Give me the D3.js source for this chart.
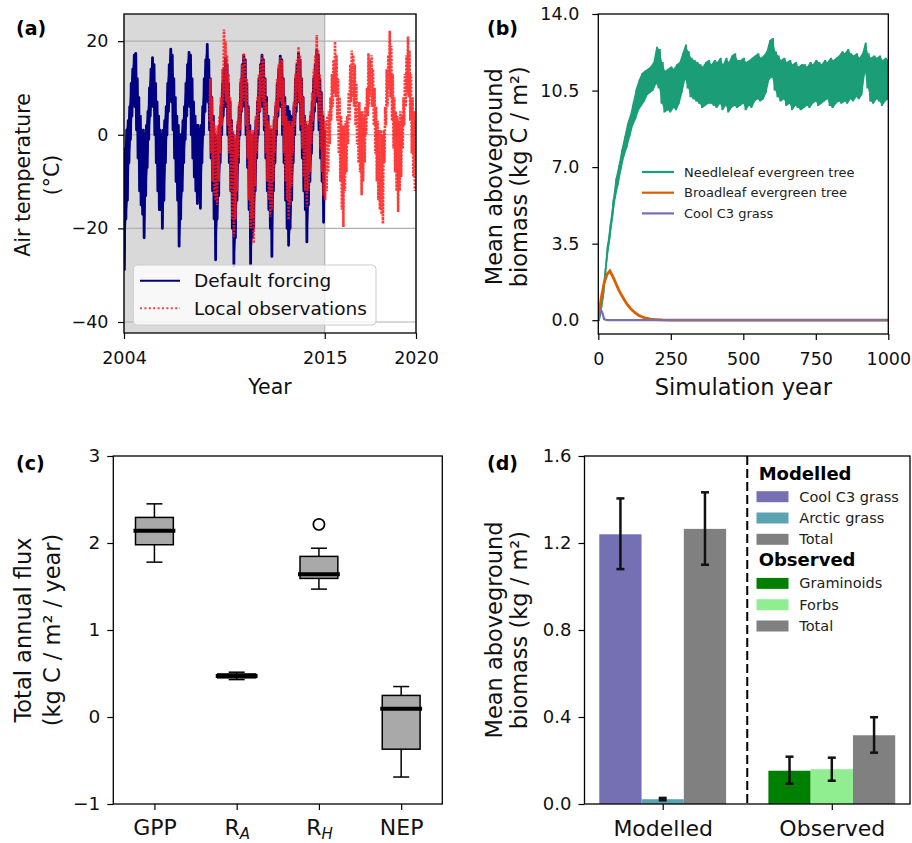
<!DOCTYPE html>
<html>
<head>
<meta charset="utf-8">
<script src="https://cdn.jsdelivr.net/npm/d3@7"></script>
<style>
  body { margin: 0; background: #fff; }
  svg { display: block; font-family: "DejaVu Sans", sans-serif; }
</style>
</head>
<body>
<svg id="fig" width="912" height="843"></svg>
<script>
/************ data *************************************/

// (a) air temperature, monthly low / high of the daily series (deg C)
const forcingStart = 2004;            // Jan 2004, one value per month
const forcingHigh = [
  -3, 1, 3, 6, 11, 14, 17, 17.4, 12, 8, 4, 1,
  1, 0, 2, 5, 10, 14, 16.5, 15, 11, 7, 4, 1,
  0, 1, 3, 6, 11, 15, 18.3, 17, 12, 8, 4, 2,
  0, 0, 3, 6, 11, 15, 17.6, 17, 12, 7, 4, 2,
  2, 1, 2, 6, 12, 16, 19.3, 16, 12, 8, 4, 0,
  -2, 0, 2, 6, 11, 14, 16.3, 15, 11, 7, 3, 0,
  -3, -1, 2, 6, 11, 15, 17, 16, 11, 6, 2, -2,
  0, 0, 3, 7, 12, 15, 17, 16, 12, 8, 4, 1,
  1, -1, 3, 6, 11, 14, 16.8, 16, 12, 8, 6, 6,
  5, 4, 3, 6, 12, 15, 17.4, 16, 12, 8, 4, 2,
  1, 2, 4, 7, 12, 15, 18.1, 17, 12, 9, 4, 1
];
const forcingLow = [
  -29, -18, -14, -6, -1, 4, 8, 6, 1, -5, -12, -15,
  -17, -22, -13, -7, -1, 4, 7, 6, 0, -6, -12, -16,
  -16, -20, -14, -6, 0, 5, 8, 7, 1, -5, -10, -14,
  -23.8, -18, -12, -6, -1, 4, 7, 6, 0, -5, -9, -12,
  -14.7, -12, -15.7, -6, 0, 5, 8, 7, 1, -5, -12, -18,
  -26.7, -18, -13, -6, 0, 4, 7, 6, 0, -6, -12, -20,
  -28, -22, -14, -6, 0, 5, 8, 6, 0, -7, -16, -27.8,
  -22, -20, -12, -5, 0, 5, 8, 6, 1, -5, -12, -16,
  -20, -26, -12, -6, 0, 4, 8, 6, 0, -6, -14, -20,
  -23.6, -20, -14, -6, 0, 5, 8, 7, 1, -5, -12, -16,
  -22.9, -15, -10, -4, 1, 5, 9, 7, 1, -5, -10, -18.7
];
const obsStart = 2008 + 8 / 12;       // Sep 2008
const obsHigh = [
  12, 8, 3, 2,
  1, 2, 4, 8, 14, 22.5, 20, 17, 13, 8, 3, 1,
  0, 0, 3, 7, 12, 15, 17.4, 16, 12, 6, 1, 0,
  1, 0, 4, 8, 13, 15, 17, 16, 12, 7, 3, 2,
  2, 1, 4, 7, 12, 15, 16.5, 16, 12, 7, 4, 3,
  3, 2, 3, 7, 13, 16, 18.8, 17, 12, 8, 4, 3,
  2, 3, 5, 9, 14, 17, 21.3, 18, 13, 9, 5, 3,
  3, 4, 5, 8, 13, 16, 19.9, 17, 12, 8, 4, 2,
  2, 3, 4, 9, 15, 18, 17, 15, 11, 7, 7, 5,
  5, 4, 6, 10, 17.4, 16, 17, 14, 10, 6, 3, 1,
  1, 0, 1, 6, 14, 17, 22.2, 19, 13, 8, 5, 4,
  3, 5, 4, 8, 13, 17, 21, 18, 13, 8, 5, 3
];
const obsLow = [
  3, -4, -10, -13,
  -14, -15, -10, -4, 2, 6, 9, 7, 2, -4, -12, -18,
  -21.8, -18, -12, -5, 1, 5, 8, 7, 2, -5, -14, -20,
  -18, -23.2, -11, -4, 1, 5, 8, 7, 2, -4, -10, -14,
  -17.5, -16, -10, -4, 1, 5, 8, 7, 2, -4, -10, -14,
  -18.2, -15, -11, -4, 2, 6, 9, 7, 2, -3, -9, -12,
  -15.4, -12, -8, -2, 3, 6, 10, 8, 3, -3, -8, -13,
  -14, -12, -8, -2, 3, 6, 9, 8, 3, -4, -10, -16,
  -19.7, -12, -8, -2, 3, 7, 8, 6, 2, -2, -6, -8,
  -12.9, -10, -6, 0, 4, 6, 8, 6, 2, -4, -10, -14,
  -16, -17, -19, -6, 2, 6, 10, 8, 3, -3, -8, -12,
  -16.5, -12, -9, -3, 2, 6, 9, 8, 3, -4, -9, -12
];
const tempYearTicks = [2004, 2015, 2020];
const tempTicks = [-40, -20, 0, 20];

// (b) biomass spin-up, needleleaf band (low / high) every 10 years
const netLow = [
  0, 0.3, 1.2, 2.6, 3.6, 4.6, 5.6, 6.2, 6.9, 7.5,
  7.9, 8.4, 8.9, 9.2, 9.6, 9.8, 10.0, 10.3, 10.4, 10.5,
  10.8, 10.6, 9.9, 9.5, 9.6, 9.5, 9.7, 9.6, 9.9, 10.4,
  11.0, 10.6, 10.2, 10.1, 10.0, 9.9, 9.7, 9.8, 9.9, 9.9,
  9.8, 9.7, 9.9, 9.6, 9.8, 9.5, 9.7, 9.8, 9.7, 9.8,
  9.9, 9.6, 9.8, 9.7, 10.0, 10.1, 10.0, 10.1, 10.4, 11.0,
  11.1, 10.5, 10.2, 10.0, 10.1, 9.8, 9.9, 9.6, 9.8, 9.7,
  9.6, 9.7, 9.8, 9.7, 9.9, 10.0, 9.8, 9.9, 10.0, 10.1,
  9.8, 9.7, 9.9, 10.0, 9.9, 10.0, 9.9, 10.1, 10.0, 10.2,
  10.1, 10.3, 11.3, 10.6, 10.0, 9.9, 10.1, 10.0, 9.8, 10.0,
  10.1
];
const netHigh = [
  0, 0.8, 2.0, 3.4, 4.4, 5.5, 6.5, 7.1, 7.8, 8.4,
  9.0, 9.4, 10.0, 10.6, 11.0, 11.3, 11.4, 11.5, 11.6, 11.8,
  12.5, 12.4, 11.8, 11.4, 11.5, 11.6, 11.5, 11.7, 11.8, 12.2,
  12.6, 12.3, 12.0, 11.9, 11.8, 11.7, 11.6, 11.8, 11.9, 11.7,
  11.9, 11.8, 12.0, 11.7, 12.0, 11.8, 12.1, 12.2, 11.9, 11.9,
  12.0, 11.8, 11.9, 12.0, 12.1, 12.2, 12.0, 12.1, 12.3, 12.8,
  12.9, 12.3, 12.1, 11.9, 12.0, 11.8, 11.9, 11.7, 11.8, 11.6,
  11.7, 11.7, 11.6, 11.8, 11.7, 11.9, 11.8, 11.7, 11.9, 11.8,
  12.0, 11.9, 12.0, 12.1, 12.3, 12.2, 12.4, 12.2, 12.1, 12.2,
  12.0, 12.2, 12.7, 12.2, 12.0, 12.1, 12.0, 12.1, 11.9, 12.0,
  11.9
];
const broadYears = [0, 5, 10, 20, 30, 40, 50, 60, 70, 80, 90, 100, 110, 120, 130, 140, 150, 160, 170, 180, 200, 220, 250, 300, 1000];
const broadBiomass = [0, 0.5, 1.0, 1.7, 2.1, 2.25, 2.0, 1.7, 1.4, 1.15, 0.92, 0.72, 0.55, 0.42, 0.31, 0.22, 0.16, 0.11, 0.08, 0.05, 0.03, 0.015, 0.005, 0, 0];
const grassYears = [0, 5, 10, 15, 20, 30, 1000];
const grassBiomass = [0.1, 0.3, 0.45, 0.3, 0.05, 0, 0];
const pftNames = ["Needleleaf evergreen tree", "Broadleaf evergreen tree", "Cool C3 grass"];
const pftColors = ["#1b9e77", "#d95f02", "#7570b3"];
const simYearTicks = [0, 250, 500, 750, 1000];
const biomassTicks = [0, 3.5, 7, 10.5, 14];

// (c) annual flux box plots
const fluxLabels = ["GPP", "R", "R", "NEP"];
const fluxSubs = ["", "A", "H", ""];
const fluxWhiskerLow = [1.78, 0.43, 1.47, -0.69];
const fluxQ1 = [1.98, 0.45, 1.593, -0.37];
const fluxMedian = [2.14, 0.47, 1.64, 0.095];
const fluxQ3 = [2.294, 0.495, 1.846, 0.248];
const fluxWhiskerHigh = [2.45, 0.515, 1.94, 0.35];
const fluxOutliers = [[], [], [2.214], []];
const fluxTicks = [-1, 0, 1, 2, 3];

// (d) modelled vs observed biomass
const sourceLabels = ["Modelled", "Observed"];
const modelledNames = ["Cool C3 grass", "Arctic grass", "Total"];
const modelledMean = [1.24, 0.022, 1.265];
const modelledErrLow = [1.08, 0.017, 1.10];
const modelledErrHigh = [1.405, 0.028, 1.433];
const modelledColors = ["#7570b3", "#5ba3b1", "#808080"];
const observedNames = ["Graminoids", "Forbs", "Total"];
const observedMean = [0.153, 0.16, 0.316];
const observedErrLow = [0.093, 0.107, 0.236];
const observedErrHigh = [0.2175, 0.213, 0.399];
const observedColors = ["#008000", "#90ee90", "#808080"];
const obsBiomassTicks = [0, 0.4, 0.8, 1.2, 1.6];

/************ helpers *****************/

const svg = d3.select("#fig");
const FONT = "DejaVu Sans";

function frame(x, y) {
  const [x0, x1] = x.range(), [y0, y1] = y.range();
  svg.append("rect")
    .attr("x", x0).attr("y", y1)
    .attr("width", x1 - x0).attr("height", y0 - y1)
    .attr("fill", "none").attr("stroke", "#000").attr("stroke-width", 1.3);
}

function clip(id, x, y) {
  const [x0, x1] = x.range(), [y0, y1] = y.range();
  svg.append("clipPath").attr("id", id).append("rect")
    .attr("x", x0).attr("y", y1).attr("width", x1 - x0).attr("height", y0 - y1);
  return svg.append("g").attr("clip-path", `url(#${id})`);
}

function styleAxis(g, size) {
  g.attr("font-family", FONT).attr("font-size", size);
  g.select(".domain").remove();
  g.selectAll(".tick line").attr("stroke", "#000").attr("stroke-width", 1.2);
  g.selectAll(".tick text").attr("fill", "#111");
}

function leftAxis(x, y, ticks, fmt, size, pad) {
  const g = svg.append("g").attr("transform", `translate(${x.range()[0]},0)`)
    .call(d3.axisLeft(y).tickValues(ticks).tickFormat(fmt).tickSize(6).tickPadding(pad));
  styleAxis(g, size);
  return g;
}

function bottomAxis(x, y, ticks, fmt, size, pad) {
  const g = svg.append("g").attr("transform", `translate(0,${y.range()[0]})`)
    .call(d3.axisBottom(x).tickValues(ticks).tickFormat(fmt).tickSize(6).tickPadding(pad));
  styleAxis(g, size);
  return g;
}

function yLabel(lines, xs, cy, size) {
  lines.forEach((txt, i) => {
    svg.append("text")
      .attr("transform", `translate(${xs[i]},${cy}) rotate(-90)`)
      .attr("text-anchor", "middle").attr("dy", "0.35em")
      .attr("font-family", FONT).attr("font-size", size).attr("fill", "#111")
      .text(txt);
  });
}

function xLabel(txt, cx, cy, size) {
  svg.append("text").attr("x", cx).attr("y", cy)
    .attr("text-anchor", "middle").attr("dy", "0.35em")
    .attr("font-family", FONT).attr("font-size", size).attr("fill", "#111")
    .text(txt);
}

function panelTag(txt, x, cy) {
  svg.append("text").attr("x", x).attr("y", cy).attr("dy", "0.35em")
    .attr("font-family", FONT).attr("font-size", 19).attr("font-weight", "bold")
    .text(txt);
}

// monthly low/high pairs turned into a dense zig-zag trace
function monthlyTrace(start, lows, highs) {
  const pts = [];
  lows.forEach((lo, i) => {
    const t = start + i / 12;
    pts.push([t + 0.25 / 12, lo], [t + 0.75 / 12, highs[i]]);
  });
  return pts;
}

function monthlyBand(start, lows, highs) {
  return lows.map((lo, i) => ({ t: start + (i + 0.5) / 12, lo: lo, hi: highs[i] }));
}

/************ (a) air temperature *****************/

const xa = d3.scaleLinear().domain([2004, 2020]).range([124, 416]);
const ya = d3.scaleLinear().domain([-42.35, 25.8]).range([333, 14]);

svg.append("rect")
  .attr("x", xa(2004)).attr("y", ya.range()[1])
  .attr("width", xa(2015) - xa(2004)).attr("height", ya.range()[0] - ya.range()[1])
  .attr("fill", "#d9d9d9");

svg.append("g").selectAll("line").data(tempTicks).join("line")
  .attr("x1", xa.range()[0]).attr("x2", xa.range()[1])
  .attr("y1", d => ya(d)).attr("y2", d => ya(d))
  .attr("stroke", "#b0b0b0").attr("stroke-width", 1.1);
svg.append("g").selectAll("line").data(tempYearTicks).join("line")
  .attr("x1", d => xa(d)).attr("x2", d => xa(d))
  .attr("y1", ya.range()[0]).attr("y2", ya.range()[1])
  .attr("stroke", "#b0b0b0").attr("stroke-width", 1.1);

const ga = clip("clipA", xa, ya);
const tempLine = d3.line().x(d => xa(d[0])).y(d => ya(d[1]));
const tempArea = d3.area().x(d => xa(d.t)).y0(d => ya(d.lo)).y1(d => ya(d.hi));

// default forcing: solid band with jagged edges
ga.append("path")
  .attr("d", tempArea(monthlyBand(forcingStart, forcingLow, forcingHigh)))
  .attr("fill", "#000080");
ga.append("path")
  .attr("d", tempLine(monthlyTrace(forcingStart, forcingLow, forcingHigh)))
  .attr("fill", "none").attr("stroke", "#000080").attr("stroke-width", 2.8)
  .attr("stroke-linejoin", "round");

// local observations: dotted trace
ga.append("path")
  .attr("d", tempLine(monthlyTrace(obsStart, obsLow, obsHigh)))
  .attr("fill", "none").attr("stroke", "#ff1a1a").attr("stroke-opacity", 0.85)
  .attr("stroke-width", 2.6).attr("stroke-dasharray", "2.2,1.3");

frame(xa, ya);
leftAxis(xa, ya, tempTicks, d3.format("d"), 17.5, 9.5);
bottomAxis(xa, ya, tempYearTicks, d3.format("d"), 17.5, 13);
yLabel(["Air temperature", "(°C)"], [22.7, 51.7], 175, 20.5);
xLabel("Year", 270, 386.7, 20.5);
panelTag("(a)", 16, 28);

// legend
const legA = svg.append("g");
legA.append("rect").attr("x", 133.3).attr("y", 265).attr("width", 242.7).attr("height", 60)
  .attr("rx", 4).attr("fill", "#fff").attr("fill-opacity", 0.8)
  .attr("stroke", "#cccccc").attr("stroke-width", 1);
[["Default forcing", "#000080", null, 1], ["Local observations", "#ff0000", "2,2.4", 0.75]]
  .forEach(([name, col, dash, op], i) => {
    const cy = 280.7 + i * 27.6;
    legA.append("line").attr("x1", 140).attr("x2", 180).attr("y1", cy).attr("y2", cy)
      .attr("stroke", col).attr("stroke-opacity", op).attr("stroke-width", 2)
      .attr("stroke-dasharray", dash);
    legA.append("text").attr("x", 194).attr("y", cy).attr("dy", "0.35em")
      .attr("font-family", FONT).attr("font-size", 18.5).attr("fill", "#111").text(name);
  });

/************ (b) biomass spin-up *****************/

const xb = d3.scaleLinear().domain([0, 1000]).range([598.3, 888.3]);
const yb = d3.scaleLinear().domain([-0.63, 14]).range([334, 14]);
const gb = clip("clipB", xb, yb);

const netYears = netLow.map((d, i) => i * 10);
const netTrace = [];
netYears.forEach((yr, i) => {
  netTrace.push([yr - 2.5, netLow[i]], [yr + 2.5, netHigh[i]]);
});
const bLine = d3.line().x(d => xb(Math.max(0, d[0]))).y(d => yb(d[1]));
const bArea = d3.area().x((d, i) => xb(netYears[i])).y0(d => yb(d[0])).y1(d => yb(d[1]));
gb.append("path").attr("d", bArea(netLow.map((lo, i) => [lo, netHigh[i]])))
  .attr("fill", pftColors[0]);
gb.append("path").attr("d", bLine(netTrace))
  .attr("fill", "none").attr("stroke", pftColors[0]).attr("stroke-width", 1.8);
gb.append("path").attr("d", bLine(broadYears.map((yr, i) => [yr, broadBiomass[i]])))
  .attr("fill", "none").attr("stroke", pftColors[1]).attr("stroke-width", 2.8);
gb.append("path").attr("d", bLine(grassYears.map((yr, i) => [yr, grassBiomass[i]])))
  .attr("fill", "none").attr("stroke", pftColors[2]).attr("stroke-width", 2.2);

frame(xb, yb);
leftAxis(xb, yb, biomassTicks, d3.format(".1f"), 17.5, 13);
bottomAxis(xb, yb, simYearTicks, d3.format("d"), 17.5, 13);
yLabel(["Mean aboveground", "biomass (kg C / m\u00b2)"], [493.7, 519.3], 176.7, 22.5);
xLabel("Simulation year", 743.3, 386.7, 22.5);
panelTag("(b)", 487, 28);

pftNames.forEach((name, i) => {
  const cy = 172 + i * 20.7;
  svg.append("line").attr("x1", 642).attr("x2", 674).attr("y1", cy).attr("y2", cy)
    .attr("stroke", pftColors[i]).attr("stroke-width", 2.2);
  svg.append("text").attr("x", 684).attr("y", cy).attr("dy", "0.35em")
    .attr("font-family", FONT).attr("font-size", 13).attr("fill", "#222").text(name);
});

/************ (c) flux box plots *****************/

const xc = d3.scaleLinear().domain([0.5, 4.5]).range([113.3, 442.3]);
const yc = d3.scaleLinear().domain([-1, 3]).range([804, 456]);
const boxW = 0.46;
const capHalf = 8;

fluxLabels.forEach((lab, i) => {
  const cx = xc(i + 1);
  const hw = (xc(i + 1 + boxW / 2) - xc(i + 1 - boxW / 2)) / 2;
  const g = svg.append("g");
  // whiskers
  [[fluxWhiskerLow[i], fluxQ1[i]], [fluxQ3[i], fluxWhiskerHigh[i]]].forEach(([a, b]) => {
    g.append("line").attr("x1", cx).attr("x2", cx).attr("y1", yc(a)).attr("y2", yc(b))
      .attr("stroke", "#000").attr("stroke-width", 1.5);
  });
  [fluxWhiskerLow[i], fluxWhiskerHigh[i]].forEach(v => {
    g.append("line").attr("x1", cx - capHalf).attr("x2", cx + capHalf)
      .attr("y1", yc(v)).attr("y2", yc(v))
      .attr("stroke", "#000").attr("stroke-width", 1.5);
  });
  g.append("rect").attr("x", cx - hw).attr("y", yc(fluxQ3[i]))
    .attr("width", 2 * hw).attr("height", yc(fluxQ1[i]) - yc(fluxQ3[i]))
    .attr("fill", "#a9a9a9").attr("stroke", "#000").attr("stroke-width", 1.5);
  g.append("line").attr("x1", cx - hw).attr("x2", cx + hw)
    .attr("y1", yc(fluxMedian[i])).attr("y2", yc(fluxMedian[i]))
    .attr("stroke", "#000").attr("stroke-width", 4).attr("stroke-linecap", "square");
  fluxOutliers[i].forEach(v => {
    g.append("circle").attr("cx", cx).attr("cy", yc(v)).attr("r", 5.6)
      .attr("fill", "none").attr("stroke", "#000").attr("stroke-width", 1.7);
  });
});

frame(xc, yc);
leftAxis(xc, yc, fluxTicks, d3.format("d"), 18.5, 7);
const axC = bottomAxis(xc, yc, [1, 2, 3, 4], () => "", 22, 9);
axC.selectAll(".tick text").each(function (d) {
  const t = d3.select(this).text(fluxLabels[d - 1]);
  if (fluxSubs[d - 1]) {
    t.append("tspan").attr("font-style", "italic").attr("font-size", 15)
      .attr("dy", "0.28em").text(fluxSubs[d - 1]);
  }
});
yLabel(["Total annual flux", "(kg C / m\u00b2 / year)"], [23.3, 51.7], 630, 22.5);
panelTag("(c)", 16, 463);

/************ (d) modelled vs observed biomass *****************/

const xd = d3.scaleLinear().domain([-0.4625, 1.4625]).range([584.5, 910]);
const yd = d3.scaleLinear().domain([0, 1.6]).range([804, 456]);
const barW = 0.25;

const groups = [
  { mean: modelledMean, lo: modelledErrLow, hi: modelledErrHigh, colors: modelledColors },
  { mean: observedMean, lo: observedErrLow, hi: observedErrHigh, colors: observedColors }
];
groups.forEach((grp, gi) => {
  grp.mean.forEach((v, j) => {
    const c = gi + (j - 1) * barW;
    svg.append("rect")
      .attr("x", xd(c - barW / 2)).attr("y", yd(v))
      .attr("width", xd(c + barW / 2) - xd(c - barW / 2)).attr("height", yd(0) - yd(v))
      .attr("fill", grp.colors[j]);
  });
});
groups.forEach((grp, gi) => {
  grp.mean.forEach((v, j) => {
    const cx = xd(gi + (j - 1) * barW);
    svg.append("line").attr("x1", cx).attr("x2", cx)
      .attr("y1", yd(grp.lo[j])).attr("y2", yd(grp.hi[j]))
      .attr("stroke", "#111").attr("stroke-width", 2.5);
    [grp.lo[j], grp.hi[j]].forEach(e => {
      svg.append("line").attr("x1", cx - 4).attr("x2", cx + 4)
        .attr("y1", yd(e)).attr("y2", yd(e))
        .attr("stroke", "#111").attr("stroke-width", 2.5);
    });
  });
});

svg.append("line").attr("x1", xd(0.5)).attr("x2", xd(0.5))
  .attr("y1", yd.range()[1]).attr("y2", yd.range()[0])
  .attr("stroke", "#000").attr("stroke-width", 2).attr("stroke-dasharray", "9,4");

frame(xd, yd);
leftAxis(xd, yd, obsBiomassTicks, d3.format(".1f"), 18, 7);
bottomAxis(xd, yd, [0, 1], d => sourceLabels[d], 22, 10);
yLabel(["Mean aboveground", "biomass (kg / m\u00b2)"], [493.7, 519.3], 630, 22.5);
panelTag("(d)", 487, 463);

// grouped legend
const legendBlocks = [
  { title: "Modelled", names: modelledNames, colors: modelledColors, top: 473.3 },
  { title: "Observed", names: observedNames, colors: observedColors, top: 560 }
];
legendBlocks.forEach(b => {
  svg.append("text").attr("x", 758.7).attr("y", b.top).attr("dy", "0.35em")
    .attr("font-family", FONT).attr("font-size", 18).attr("font-weight", "bold")
    .text(b.title);
  b.names.forEach((name, j) => {
    const cy = b.top + 23.4 + j * 21.3;
    svg.append("rect").attr("x", 756.5).attr("y", cy - 5.5).attr("width", 32).attr("height", 11)
      .attr("fill", b.colors[j]);
    svg.append("text").attr("x", 799.3).attr("y", cy).attr("dy", "0.35em")
      .attr("font-family", FONT).attr("font-size", 14.5).attr("fill", "#222").text(name);
  });
});
</script>
</body>
</html>
